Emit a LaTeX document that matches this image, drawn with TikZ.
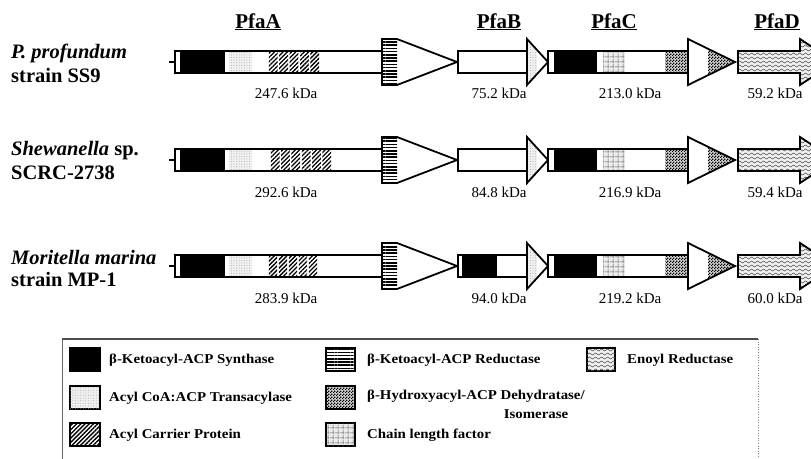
\documentclass[tikz,border=0pt]{standalone}
\usepackage{fontspec}
\setmainfont{Liberation Serif}
\newfontfamily\legfont[FakeStretch=1.1]{Liberation Serif}
\usetikzlibrary{patterns,patterns.meta}

\tikzdeclarepattern{
  name=wavy, type=uncolored,
  bounding box={(0pt,-1.5pt) and (6pt,1.5pt)},
  tile size={(6pt,4pt)},
  code={\draw[line width=0.55pt] (0pt,0pt) sin (1.5pt,1pt) cos (3pt,0pt) sin (4.5pt,-1pt) cos (6pt,0pt);}
}
\tikzdeclarepattern{
  name=weave, type=uncolored,
  bounding box={(0pt,0pt) and (5pt,5pt)},
  tile size={(5pt,5pt)},
  code={\draw[line width=0.55pt] (0pt,1.2pt) .. controls (1.7pt,3.2pt) and (3.3pt,-0.8pt) .. (5pt,1.2pt);
        \draw[line width=0.55pt] (3.7pt,0pt) .. controls (1.7pt,1.7pt) and (5.7pt,3.3pt) .. (3.7pt,5pt);}
}
\tikzdeclarepattern{
  name=checker, type=uncolored,
  bounding box={(0pt,0pt) and (3pt,3pt)},
  tile size={(3pt,3pt)},
  code={\fill (0pt,0pt) rectangle (1.5pt,1.5pt); \fill (1.5pt,1.5pt) rectangle (3pt,3pt);}
}

\tikzset{
  outl/.style={draw=black, line width=1.8pt, line join=miter},
  thinoutl/.style={draw=black, line width=1.3pt},
  ksdom/.style={fill=black},
  atdom/.style={fill=gray!12, postaction={pattern color=gray!75, pattern={Dots[distance=2.6pt, radius=0.45pt]}}},
  acpdom/.style={fill=white, postaction={pattern color=black, pattern={Lines[angle=45, distance=3pt, line width=1.3pt]}}},
  krdom/.style={fill=white, postaction={pattern color=black, pattern={Lines[angle=0, distance=3.2pt, line width=1.6pt]}}},
  dhdom/.style={fill=gray!35, postaction={pattern color=black, pattern=checker}},
  clfdom/.style={fill=gray!15, postaction={pattern color=gray!70!black, pattern=weave}},
  erdom/.style={fill=gray!12, postaction={pattern color=gray!60!black, pattern=wavy}},
  hdrtext/.style={font=\fontsize{21}{24}\selectfont\bfseries, anchor=base, inner sep=0pt},
  kdatext/.style={font=\fontsize{15}{17}\selectfont, anchor=center, inner sep=0pt},
  sptext/.style={font=\fontsize{20.5}{23}\selectfont\bfseries, anchor=west, inner sep=0pt},
  legtext/.style={font=\legfont\fontsize{13.5}{15}\selectfont\bfseries, anchor=west, inner sep=0pt}
}

\begin{document}
\begin{tikzpicture}[x=1pt,y=-1pt]
\clip (0,0) rectangle (811,458);
\fill[white] (0,0) rectangle (811,458);

% headers
\node[hdrtext] (hA) at (258,28) {\underline{PfaA}};
\node[hdrtext] (hB) at (499,28) {\underline{PfaB}};
\node[hdrtext] (hC) at (614,28) {\underline{PfaC}};
\node[hdrtext] (hD) at (777,28) {\underline{PfaD}};

% species
\node[sptext] (s1a) at (11,53) {\itshape P. profundum};
\node[sptext] (s1b) at (11,75) {strain SS9};
\node[sptext] (s2a) at (11,151) {\itshape Shewanella\upshape\ sp.};
\node[sptext] (s2b) at (11,173) {SCRC-2738};
\node[sptext] (s3a) at (11,257) {\itshape Moritella marina};
\node[sptext] (s3b) at (11,279) {strain MP-1};

\foreach \c/\as/\ae/\na/\bk in {62/268/320/5/0, 160/270/332/6/0, 266/268/318/5/1} {
  % ---- PfaA body
  \fill[white] (175,\c-11) rectangle (382,\c+11);
  \fill[ksdom] (180,\c-11) rectangle (225,\c+11);
  \fill[atdom] (229,\c-11) rectangle (252,\c+11);
  \pgfmathsetmacro\wa{(\ae-\as)/\na}
  \foreach \i in {1,...,\na} {
    \fill[acpdom] ({\as+(\i-1)*\wa+0.8},\c-11) rectangle ({\as+\i*\wa-0.8},\c+11);
  }
  \draw[outl] (175,\c-11) rectangle (382,\c+11);
  \draw[line width=1.2pt] (169,\c) -- (175,\c);
  % PfaA head
  \fill[white] (382,\c-23) -- (397,\c-23) -- (457,\c) -- (397,\c+23) -- (382,\c+23) -- cycle;
  \fill[krdom] (382,\c-23) rectangle (397,\c+23);
  \draw[outl] (382,\c-23) -- (397,\c-23) -- (457,\c) -- (397,\c+23) -- (382,\c+23) -- cycle;
  % ---- PfaB
  \fill[white] (458,\c-11) rectangle (527,\c+11);
  \ifnum\bk=1 \fill[ksdom] (462,\c-11) rectangle (497,\c+11); \fi
  \draw[outl] (458,\c-11) rectangle (527,\c+11);
  \fill[white] (527,\c-23) -- (548,\c) -- (527,\c+23) -- cycle;
  \begin{scope}
    \clip (527,\c-23) -- (548,\c) -- (527,\c+23) -- cycle;
    \fill[atdom] (527,\c-23) rectangle (537,\c+23);
  \end{scope}
  \draw[outl] (527,\c-23) -- (548,\c) -- (527,\c+23) -- cycle;
  % ---- PfaC
  \fill[white] (548,\c-11) rectangle (688,\c+11);
  \fill[ksdom] (554,\c-11) rectangle (597,\c+11);
  \fill[clfdom] (603,\c-11) rectangle (625,\c+11);
  \fill[dhdom] (665,\c-11) rectangle (688,\c+11);
  \draw[outl] (548,\c-11) rectangle (688,\c+11);
  \fill[white] (688,\c-23) -- (735,\c) -- (688,\c+23) -- cycle;
  \begin{scope}
    \clip (688,\c-23) -- (735,\c) -- (688,\c+23) -- cycle;
    \fill[dhdom] (708,\c-23) rectangle (736,\c+23);
  \end{scope}
  \draw[outl] (688,\c-23) -- (735,\c) -- (688,\c+23) -- cycle;
  % ---- PfaD
  \fill[erdom] (738,\c-11) -- (800,\c-11) -- (800,\c-23) -- (835,\c) -- (800,\c+23) -- (800,\c+11) -- (738,\c+11) -- cycle;
  \draw[outl] (738,\c-11) -- (800,\c-11) -- (800,\c-23) -- (835,\c) -- (800,\c+23) -- (800,\c+11) -- (738,\c+11) -- cycle;
}

% kDa labels
\node[kdatext] (k1a) at (286,93) {247.6 kDa};
\node[kdatext] (k1b) at (499,93) {75.2 kDa};
\node[kdatext] (k1c) at (630,93) {213.0 kDa};
\node[kdatext] (k1d) at (775,93) {59.2 kDa};
\node[kdatext] (k2a) at (286,192) {292.6 kDa};
\node[kdatext] (k2b) at (499,192) {84.8 kDa};
\node[kdatext] (k2c) at (630,192) {216.9 kDa};
\node[kdatext] (k2d) at (775,192) {59.4 kDa};
\node[kdatext] (k3a) at (286,298) {283.9 kDa};
\node[kdatext] (k3b) at (499,298) {94.0 kDa};
\node[kdatext] (k3c) at (630,298) {219.2 kDa};
\node[kdatext] (k3d) at (775,298) {60.0 kDa};

% legend frame
\draw[line width=1.6pt, draw=black!70] (62,339) -- (758,339);
\draw[line width=0.7pt, draw=black!60] (62,339) -- (62,460);
\draw[line width=0.6pt, draw=gray, dotted] (758,339) -- (758,460);

\filldraw[ksdom, thinoutl] (70,348) rectangle (100,371);
\filldraw[atdom, thinoutl] (70,386) rectangle (100,409);
\filldraw[acpdom, thinoutl] (70,423) rectangle (100,446);
\filldraw[krdom, thinoutl] (326,348) rectangle (355,371);
\filldraw[dhdom, thinoutl] (326,386) rectangle (355,409);
\filldraw[clfdom, thinoutl] (326,423) rectangle (355,446);
\filldraw[erdom, thinoutl] (587,348) rectangle (615,371);

\node[legtext] (l1) at (109,360) {β-Ketoacyl-ACP Synthase};
\node[legtext] (l2) at (109,398) {Acyl CoA:ACP Transacylase};
\node[legtext] (l3) at (109,435) {Acyl Carrier Protein};
\node[legtext] (l4) at (367,360) {β-Ketoacyl-ACP Reductase};
\node[legtext] (l5) at (367,396) {β-Hydroxyacyl-ACP Dehydratase/};
\node[legtext, anchor=center] (l5b) at (536,414) {Isomerase};
\node[legtext] (l6) at (367,435) {Chain length factor};
\node[legtext] (l7) at (627,360) {Enoyl Reductase};
\end{tikzpicture}
\end{document}
